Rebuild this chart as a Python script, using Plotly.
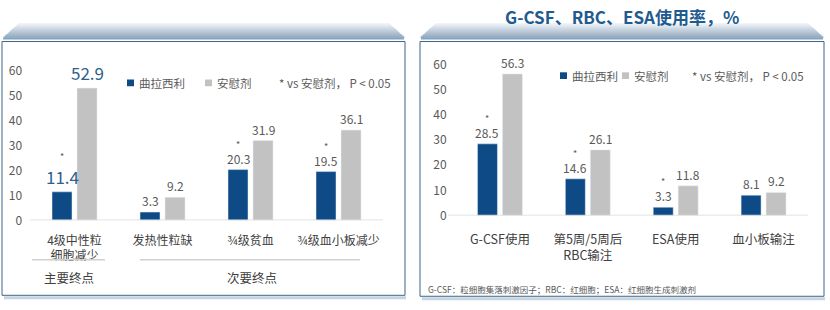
import plotly.graph_objects as go

W, H = 830, 310

# ---------------- data ----------------
categories_left = ["4级中性粒<br>细胞减少", "发热性粒缺", "¾级贫血", "¾级血小板减少"]
trilaciclib_left = [11.4, 3.3, 20.3, 19.5]
placebo_left = [52.9, 9.2, 31.9, 36.1]
sig_left = [True, False, True, True]

categories_right = ["G-CSF使用", "第5周/5周后<br>RBC输注", "ESA使用", "血小板输注"]
trilaciclib_right = [28.5, 14.6, 3.3, 8.1]
placebo_right = [56.3, 26.1, 11.8, 9.2]
sig_right = [True, True, True, False]

y_ticks = [0, 10, 20, 30, 40, 50, 60]
series_names = ["曲拉西利", "安慰剂"]
endpoint_groups = ["主要终点", "次要终点"]
title_text = "G-CSF、RBC、ESA使用率，%"
sig_note = "* vs 安慰剂， P < 0.05"
footnote = "G-CSF：粒细胞集落刺激因子；RBC：红细胞；ESA：红细胞生成刺激剂"

# ---------------- style ----------------
BLUE = "#0e4a86"
GRAY = "#c2c2c2"
TXT = "#595959"
DARK = "#404040"
HILITE = "#2f5f8c"
FONT = "Noto Sans CJK SC"


def fx(x):
    return x / W


def fy(y):
    return 1 - y / H


fig = go.Figure()

fig.add_trace(go.Bar(x=categories_left, y=trilaciclib_left, name=series_names[0],
                     marker_color=BLUE, xaxis="x", yaxis="y", showlegend=False))
fig.add_trace(go.Bar(x=categories_left, y=placebo_left, name=series_names[1],
                     marker_color=GRAY, xaxis="x", yaxis="y", showlegend=False))
fig.add_trace(go.Bar(x=categories_right, y=trilaciclib_right, name=series_names[0],
                     marker_color=BLUE, xaxis="x2", yaxis="y2", showlegend=False))
fig.add_trace(go.Bar(x=categories_right, y=placebo_right, name=series_names[1],
                     marker_color=GRAY, xaxis="x2", yaxis="y2", showlegend=False))

annotations = []
shapes = []


def value_labels(cats, vals, xr, yr, offset, sig, big_first):
    for i, (c, v) in enumerate(zip(cats, vals)):
        big = big_first and i == 0
        annotations.append(dict(
            x=c, y=v, xref=xr, yref=yr, xshift=offset, yshift=1,
            xanchor="center", yanchor="bottom", showarrow=False, text=f"{v:.1f}",
            font=dict(size=17 if big else 12, color=HILITE if big else TXT, family=FONT)))
        if sig is not None and sig[i]:
            annotations.append(dict(
                x=c, y=v, xref=xr, yref=yr, xshift=offset,
                yshift=(27 if big else 17), xanchor="center", yanchor="bottom",
                showarrow=False, text="*", font=dict(size=9, color=TXT, family=FONT)))


value_labels(categories_left, trilaciclib_left, "x", "y", -12.5, sig_left, True)
value_labels(categories_left, placebo_left, "x", "y", 12.5, None, True)
value_labels(categories_right, trilaciclib_right, "x2", "y2", -12.5, sig_right, False)
value_labels(categories_right, placebo_right, "x2", "y2", 12.5, None, False)


# ---------------- panel decoration ----------------
def header(x0, x1, top=19, bottom=34, slant=16):
    n = 15
    c0 = (244, 247, 250)
    c1 = (146, 170, 194)
    for k in range(n):
        ya = top + (bottom - top) * k / n
        yb = top + (bottom - top) * (k + 1) / n
        t = (k + 0.5) / n
        col = "rgb(%d,%d,%d)" % tuple(int(c0[j] + (c1[j] - c0[j]) * t) for j in range(3))
        inset = slant * (bottom - (ya + yb) / 2) / (bottom - top)
        shapes.append(dict(type="rect", xref="paper", yref="paper",
                           x0=fx(x0 + inset), x1=fx(x1 - inset),
                           y0=fy(yb + 0.2), y1=fy(ya - 0.2),
                           fillcolor=col, line=dict(width=0), layer="above"))


def panel(x0, y0, x1, y1):
    shapes.append(dict(type="line", xref="paper", yref="paper",
                       x0=fx(x0 + 2), x1=fx(x1 + 1), y0=fy(y1 + 2.5), y1=fy(y1 + 2.5),
                       line=dict(color="#c6d4e1", width=3), layer="below"))
    shapes.append(dict(type="rect", xref="paper", yref="paper",
                       x0=fx(x0), x1=fx(x1), y0=fy(y1), y1=fy(y0),
                       line=dict(color="#3f6586", width=1), fillcolor="white", layer="below"))
    shapes.append(dict(type="line", xref="paper", yref="paper",
                       x0=fx(x0 + 1), x1=fx(x1 - 1), y0=fy(35), y1=fy(35),
                       line=dict(color="#86a3bf", width=1.5)))


panel(2, 38, 405, 302)
panel(420, 38, 824, 303)
header(3, 405)
header(420, 824)

# baselines
shapes.append(dict(type="line", xref="paper", yref="y", x0=fx(30), x1=fx(383), y0=0, y1=0,
                   line=dict(color="#d9d9d9", width=1.5)))
shapes.append(dict(type="line", xref="paper", yref="y2", x0=fx(448), x1=fx(808), y0=0, y1=0,
                   line=dict(color="#d9d9d9", width=1.5)))

# endpoint group brackets (left)
shapes.append(dict(type="line", xref="paper", yref="paper", x0=fx(32), x1=fx(105),
                   y0=fy(265), y1=fy(265), line=dict(color="#d0d0d0", width=1.5)))
shapes.append(dict(type="line", xref="paper", yref="paper", x0=fx(140), x1=fx(360),
                   y0=fy(265), y1=fy(265), line=dict(color="#d0d0d0", width=1.5)))
for txt, xc in zip(endpoint_groups, [68.5, 252]):
    annotations.append(dict(x=fx(xc), y=fy(283), xref="paper", yref="paper", showarrow=False,
                            xanchor="center", yanchor="middle",
                            text=txt, font=dict(size=12.5, color=DARK, family=FONT)))


# legends
def legend(xb, xg, xn, yc):
    for xs, col in [(xb, BLUE), (xg, GRAY)]:
        shapes.append(dict(type="rect", xref="paper", yref="paper",
                           x0=fx(xs), x1=fx(xs + 7), y0=fy(yc + 3.5), y1=fy(yc - 3.5),
                           fillcolor=col, line=dict(width=0)))
    for xs, txt in [(xb + 10, series_names[0]), (xg + 10, series_names[1]), (xn, sig_note)]:
        annotations.append(dict(x=fx(xs), y=fy(yc), xref="paper", yref="paper",
                                xanchor="left", yanchor="middle",
                                showarrow=False, text=txt,
                                font=dict(size=11.5, color=TXT, family=FONT)))


legend(127, 205, 277, 81)
legend(560, 622, 690, 73.5)

# title
annotations.append(dict(x=fx(622), y=fy(12), xref="paper", yref="paper", showarrow=False,
                        xanchor="center", yanchor="middle",
                        text=f"<b>{title_text}</b>",
                        font=dict(size=17, color="#1f5b8f", family=FONT)))
# footnote
annotations.append(dict(x=fx(426), y=fy(295), xref="paper", yref="paper",
                        xanchor="left", yanchor="middle",
                        showarrow=False, text=footnote,
                        font=dict(size=8.5, color=TXT, family=FONT)))

axis_common = dict(showgrid=False, zeroline=False, showline=False)

fig.update_layout(
    width=W, height=H, margin=dict(l=0, r=0, t=0, b=0),
    paper_bgcolor="white", plot_bgcolor="rgba(0,0,0,0)",
    font=dict(family=FONT, color=TXT),
    barmode="group", bargap=0.432, bargroupgap=0.2,
    xaxis=dict(domain=[fx(30.5), fx(382.5)], type="category", range=[-0.5, 3.5],
               ticks="outside", ticklen=9, tickcolor="rgba(0,0,0,0)",
               tickfont=dict(size=12, color=DARK, family=FONT), anchor="y", **axis_common),
    yaxis=dict(domain=[fy(224), fy(62.8)], range=[0, 62], tickvals=y_ticks,
               ticks="outside", ticklen=5, tickcolor="rgba(0,0,0,0)",
               tickfont=dict(size=12, color=TXT, family=FONT), anchor="x", **axis_common),
    xaxis2=dict(domain=[fx(456), fx(807.5)], type="category", range=[-0.5, 3.5],
                ticks="outside", ticklen=12, tickcolor="rgba(0,0,0,0)",
                tickfont=dict(size=12.5, color=DARK, family=FONT), anchor="y2", **axis_common),
    yaxis2=dict(domain=[fy(219), fy(56.8)], range=[0, 62], tickvals=y_ticks,
                ticks="outside", ticklen=6, tickcolor="rgba(0,0,0,0)",
                tickfont=dict(size=12, color=TXT, family=FONT), anchor="x2", **axis_common),
    shapes=shapes, annotations=annotations,
)

fig.write_html("out.html")
